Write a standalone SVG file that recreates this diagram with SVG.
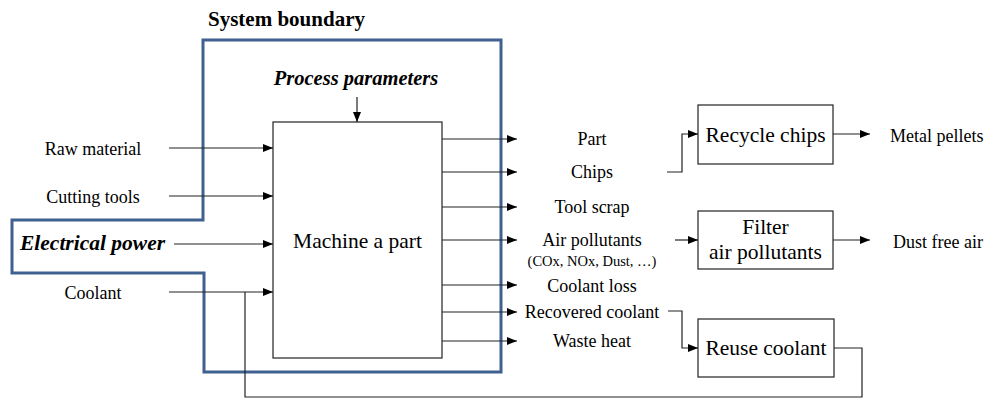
<svg xmlns="http://www.w3.org/2000/svg" width="987" height="400" viewBox="0 0 987 400">
  <style>
    text { font-family: 'Liberation Serif', 'DejaVu Serif', serif; fill: #000; }
    .lbl { font-size: 18px; }
    .mid { text-anchor: middle; }
    .box { fill: #fff; stroke: #222; stroke-width: 1.2; }
    .big { font-size: 21.5px; }
    .line { fill: none; stroke: #222; stroke-width: 1.2; }
    .arrow { fill: none; stroke: #222; stroke-width: 1.2; marker-end: url(#head); }
    .bound { fill: none; stroke: #3f6190; stroke-width: 3; stroke-linejoin: miter; }
    .bi { font-weight: bold; font-style: italic; }
  </style>
  <defs>
    <marker id="head" markerUnits="userSpaceOnUse" markerWidth="10" markerHeight="10" viewBox="0 0 10 10" refX="10" refY="5" orient="auto">
      <path d="M0,1 L10,5 L0,9 Z" fill="#000"/>
    </marker>
  </defs>

  <rect width="987" height="400" fill="#fff"/>

  <!-- system boundary -->
  <g id="system-boundary">
    <path class="bound" d="M203,40 H501 V372 H204 V273 H12 V220 H203 Z"/>
    <text x="208" y="26" style="font-size:21px;font-weight:bold">System boundary</text>
  </g>

  <!-- main process -->
  <g id="machine">
    <rect class="box" x="273" y="122" width="169" height="236"/>
    <text class="big mid" x="357.5" y="248">Machine a part</text>
  </g>

  <g id="process-parameters">
    <text class="bi mid" x="356" y="85" style="font-size:20.5px">Process parameters</text>
  </g>

  <!-- inputs -->
  <g id="inputs">
    <text class="lbl mid" x="93" y="155">Raw material</text>
    <text class="lbl mid" x="93" y="203">Cutting tools</text>
    <text class="bi" x="20" y="250" style="font-size:21.5px">Electrical power</text>
    <text class="lbl mid" x="93" y="299">Coolant</text>
  </g>

  <!-- outputs -->
  <g id="outputs">
    <text class="lbl mid" x="592" y="145">Part</text>
    <text class="lbl mid" x="592" y="178">Chips</text>
    <text class="lbl mid" x="592" y="213">Tool scrap</text>
    <text class="lbl mid" x="592" y="246">Air pollutants</text>
    <text class="mid" x="592" y="266" style="font-size:14.5px">(COx, NOx, Dust, …)</text>
    <text class="lbl mid" x="592" y="292">Coolant loss</text>
    <text class="lbl mid" x="592" y="318">Recovered coolant</text>
    <text class="lbl mid" x="592" y="347">Waste heat</text>
  </g>

  <!-- treatment processes -->
  <g id="recycle-chips">
    <rect class="box" x="698" y="105" width="135" height="59"/>
    <text class="big mid" x="765.5" y="142">Recycle chips</text>
  </g>
  <g id="filter-air">
    <rect class="box" x="698" y="211" width="135" height="58"/>
    <text class="big mid" x="765.5" y="234">Filter</text>
    <text class="big mid" x="765.5" y="259">air pollutants</text>
  </g>
  <g id="reuse-coolant">
    <rect class="box" x="698" y="319" width="136" height="58"/>
    <text class="big mid" x="766" y="355">Reuse coolant</text>
  </g>

  <g id="products">
    <text class="lbl" x="890" y="142">Metal pellets</text>
    <text class="lbl" x="893" y="248">Dust free air</text>
  </g>

  <!-- connectors -->
  <g id="connectors">
    <line class="arrow" x1="357" y1="97" x2="357" y2="122"/>
    <line class="arrow" x1="169" y1="148" x2="273" y2="148"/>
    <line class="arrow" x1="169" y1="196" x2="273" y2="196"/>
    <line class="arrow" x1="174" y1="244" x2="273" y2="244"/>
    <line class="arrow" x1="169" y1="292" x2="273" y2="292"/>

    <line class="arrow" x1="442" y1="139" x2="517" y2="139"/>
    <line class="arrow" x1="442" y1="172" x2="517" y2="172"/>
    <line class="arrow" x1="442" y1="207" x2="517" y2="207"/>
    <line class="arrow" x1="442" y1="240" x2="517" y2="240"/>
    <line class="arrow" x1="442" y1="285" x2="517" y2="285"/>
    <line class="arrow" x1="442" y1="312" x2="517" y2="312"/>
    <line class="arrow" x1="442" y1="341" x2="517" y2="341"/>

    <path class="arrow" d="M667,172 H682 V134 H698"/>
    <line class="arrow" x1="675" y1="240" x2="698" y2="240"/>
    <path class="arrow" d="M668,311 H682 V348 H698"/>

    <line class="arrow" x1="833" y1="134" x2="870" y2="134"/>
    <line class="arrow" x1="833" y1="240" x2="870" y2="240"/>

    <path class="line" d="M834,348 H862 V397 H245 V292"/>
  </g>
</svg>
